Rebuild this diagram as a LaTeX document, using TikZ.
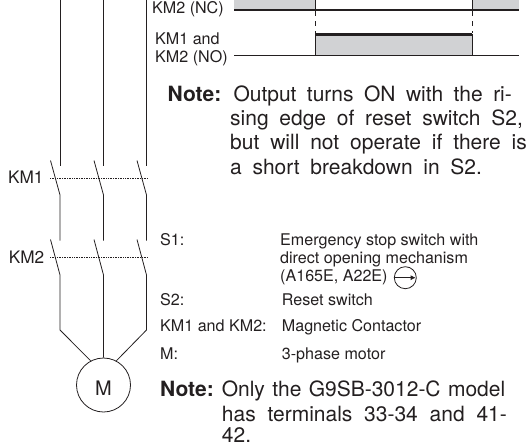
\documentclass[tikz,border=0pt]{standalone}
\usepackage{fontspec}
\usetikzlibrary{arrows.meta}
\setmainfont{TeX Gyre Heros}
\definecolor{ink}{HTML}{231F20}
\definecolor{offgray}{HTML}{D1D2D4}
\newcommand{\spreadline}[2]{\makebox[#1pt][s]{#2}}
\begin{document}
\begin{tikzpicture}[x=1pt,y=-1pt,>={Latex[length=5pt,width=5pt]}]
\tikzset{
  wire/.style={draw=ink,line width=.8pt},
  link/.style={draw=ink,line width=.7pt,densely dotted},
  small/.style={anchor=base west,inner sep=0pt,text=ink,font=\fontsize{16.1}{18}\selectfont},
  big/.style={small,font=\fontsize{17.2}{20}\selectfont},
  notetext/.style={anchor=base west,inner sep=0pt,text=ink,font=\fontsize{21}{24}\selectfont},
  notehead/.style={notetext,font=\fontsize{21}{24}\selectfont\bfseries}
}
\useasboundingbox (0,0) rectangle (527,447);
% motor circuit
\node[draw=ink,line width=.8pt,circle,minimum size=54pt,inner sep=0pt] (motor) at (103.5,385) {};
\node[anchor=base,inner sep=0pt,text=ink,font=\fontsize{20}{24}\selectfont] (motorname) at (103.5,395.5) {M};
\foreach \x/\ph/\ang in {60/a/118,103.5/b/90,146.5/c/62}{
  \coordinate (top\ph) at (\x,0);
  \coordinate (mid\ph) at (\x,195);
  \coordinate (low\ph) at (\x,275);
  \coordinate (bend\ph) at (\x,330);
  \draw[wire] (top\ph) -- (\x,166);
  \draw[wire] (\x-9.5,160.5) -- (mid\ph) -- (\x,240.5);
  \draw[wire] (\x-9.5,239.5) -- (low\ph) -- (bend\ph) -- (motor.\ang);
}
\coordinate (km1a) at (50,178.7);
\coordinate (km1b) at (147,178.7);
\coordinate (km2a) at (50,257.7);
\coordinate (km2b) at (147,257.7);
\draw[link] (km1a) -- (km1b);
\draw[link] (km2a) -- (km2b);
\node[big] (km1) at (8,183) {KM1};
\node[big] (km2) at (8.7,263.3) {KM2};
% timing chart
\coordinate (nca) at (234,10);
\coordinate (ncb) at (519,10);
\coordinate (noa) at (234,55);
\coordinate (nob) at (519,55);
\coordinate (edgeon) at (315,55);
\coordinate (edgeoff) at (472,55);
\fill[offgray] (234,0) rectangle (315,9);
\fill[offgray] (472,0) rectangle (519,9);
\fill[offgray] (315,34) rectangle (472,55);
\draw[wire] (315,0) -- (315,10);
\draw[wire] (472,0) -- (472,10);
\draw[draw=ink,line width=1.5pt] (nca) -- (ncb);
\draw[draw=ink,line width=.8pt,dash pattern=on 5pt off 5pt] (315,11) -- (315,33);
\draw[draw=ink,line width=.8pt,dash pattern=on 5pt off 5pt] (472,11) -- (472,33);
\draw[wire] (noa) -- (nob);
\draw[wire] (edgeon) -- (315,34);
\draw[wire] (edgeoff) -- (472,34);
\draw[draw=ink,line width=3pt] (315,34) -- (472,34);
\node[small] (ncl) at (152,13) {KM2 (NC)};
\node[small] (nol) at (155,44.7) {KM1 and};
\node[small] (nom) at (155,62) {KM2 (NO)};
% first note
\node[notehead] (noteone) at (167.5,101.7) {Note:};
\node[notetext] (n1a) at (233.3,101.7) {\spreadline{278.4}{Output turns ON with the ri-}};
\node[notetext] (n1b) at (230,125.7) {\spreadline{292.7}{sing edge of reset switch S2,}};
\node[notetext] (n1c) at (230,149.3) {\spreadline{296.7}{but will not operate if there is}};
\node[notetext] (n1d) at (230,174) {\spreadline{251.7}{a short breakdown in S2.}};
% legend
\node[small] (s1) at (160,245) {S1:};
\node[small] (s1a) at (280,245) {Emergency stop switch with};
\node[small] (s1b) at (280,263.3) {direct opening mechanism};
\node[small] (s1c) at (280,281.7) {(A165E, A22E)};
\node[draw=ink,line width=.8pt,circle,minimum size=22pt,inner sep=0pt] (opening) at (405.3,277.7) {};
\draw[->,draw=ink,line width=.8pt,shorten >=1pt] (opening.west) -- (opening.east);
\node[small] (s2) at (160,305.7) {S2:};
\node[small] (s2a) at (281.7,305.7) {Reset switch};
\node[small] (km) at (160,331) {KM1 and KM2:};
\node[small] (kma) at (281.7,331) {Magnetic Contactor};
\node[small] (m) at (160,359) {M:};
\node[small] (ma) at (281.7,359) {3-phase motor};
% second note
\node[notehead] (notetwo) at (160,396.7) {Note:};
\node[notetext] (n2a) at (221.7,396.7) {\spreadline{283.3}{Only the G9SB-3012-C model}};
\node[notetext] (n2b) at (221.7,421.7) {\spreadline{285}{has terminals 33-34 and 41-}};
\node[notetext] (n2c) at (221.7,442.5) {42.};
\end{tikzpicture}
\end{document}
